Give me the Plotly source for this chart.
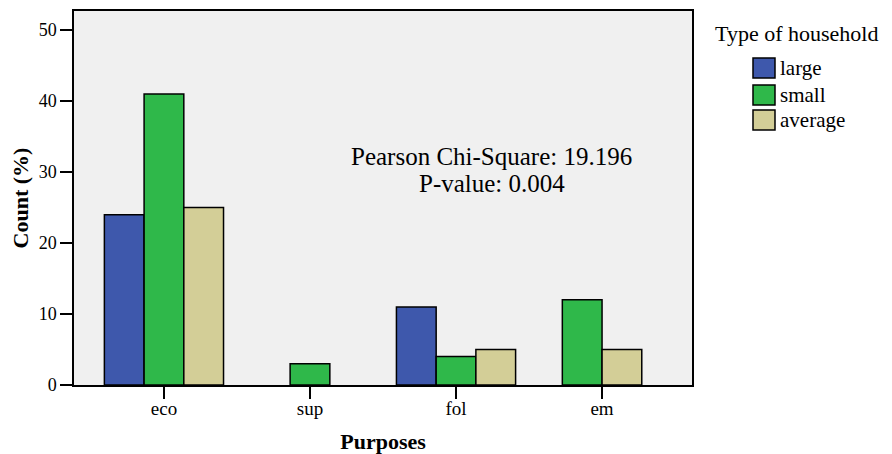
import plotly.graph_objects as go

categories = ["eco", "sup", "fol", "em"]
series_names = ["large", "small", "average"]
large = [24, None, 11, None]
small = [41, 3, 4, 12]
average = [25, None, 5, 5]
y_ticks = [0, 10, 20, 30, 40, 50]
colors = ["#3e58ac", "#2fb84a", "#d3ce97"]

series = [large, small, average]
BAR_W = 0.272
FONT = "Liberation Serif"

fig = go.Figure()

# per-category offsets: bars that exist are centered on the category
present = [[s[i] is not None for s in series] for i in range(len(categories))]
for si, (name, vals, col) in enumerate(zip(series_names, series, colors)):
    offs = []
    for ci in range(len(categories)):
        n = sum(present[ci])
        k = sum(present[ci][:si])
        offs.append(-n * BAR_W / 2 + k * BAR_W)
    fig.add_trace(go.Bar(
        x=categories, y=vals, name=name, width=BAR_W, offset=offs,
        marker=dict(color=col, line=dict(color="black", width=1.5)),
        showlegend=False,
    ))

# page body has an 8px margin, so the figure is sized to fit the window
fig.update_layout(
    width=884, height=446,
    margin=dict(l=66, r=200, t=3, b=69),
    paper_bgcolor="white", plot_bgcolor="#f0f0f0",
    font=dict(family=FONT, size=18, color="black"),
    barmode="overlay",
    xaxis=dict(
        type="category", range=[-0.616, 3.616], automargin=False,
        showline=True, mirror=True, linecolor="black", linewidth=1.5,
        ticks="outside", ticklen=12, tickwidth=2, tickcolor="black",
        ticklabelstandoff=-7,
        showgrid=False, tickfont=dict(size=19),
        title=dict(text="<b>Purposes</b>", font=dict(size=22), standoff=26),
    ),
    yaxis=dict(
        range=[0, 52.7], tickvals=y_ticks, automargin=False,
        showline=True, mirror=True, linecolor="black", linewidth=1.5,
        ticks="outside", ticklen=12, tickwidth=2, tickcolor="black",
        showgrid=False, zeroline=False, tickfont=dict(size=18),
        title=dict(text="<b>Count (%)</b>", font=dict(size=22), standoff=8),
    ),
)

fig.add_annotation(
    xref="paper", yref="paper", x=0.676, y=0.61, xanchor="center", yanchor="middle",
    text="Pearson Chi-Square: 19.196", showarrow=False,
    font=dict(family=FONT, size=25),
)
fig.add_annotation(
    xref="paper", yref="paper", x=0.676, y=0.540, xanchor="center", yanchor="middle",
    text="P-value: 0.004", showarrow=False,
    font=dict(family=FONT, size=25),
)

# legend drawn manually
fig.add_annotation(
    xref="paper", yref="paper", x=1.034, y=0.941, xanchor="left", yanchor="middle",
    text="Type of household", showarrow=False, font=dict(family=FONT, size=22),
)
row_y = [0.8476, 0.7754, 0.7086]
for name, col, yy in zip(series_names, colors, row_y):
    fig.add_shape(
        type="rect", xref="paper", yref="paper",
        x0=1.0987, x1=1.1343, y0=yy - 0.0267, y1=yy + 0.0267,
        fillcolor=col, line=dict(color="black", width=1.5),
    )
    fig.add_annotation(
        xref="paper", yref="paper", x=1.139, y=yy, xanchor="left", yanchor="middle",
        text=name, showarrow=False, font=dict(family=FONT, size=21),
    )

fig.write_html("out.html")
